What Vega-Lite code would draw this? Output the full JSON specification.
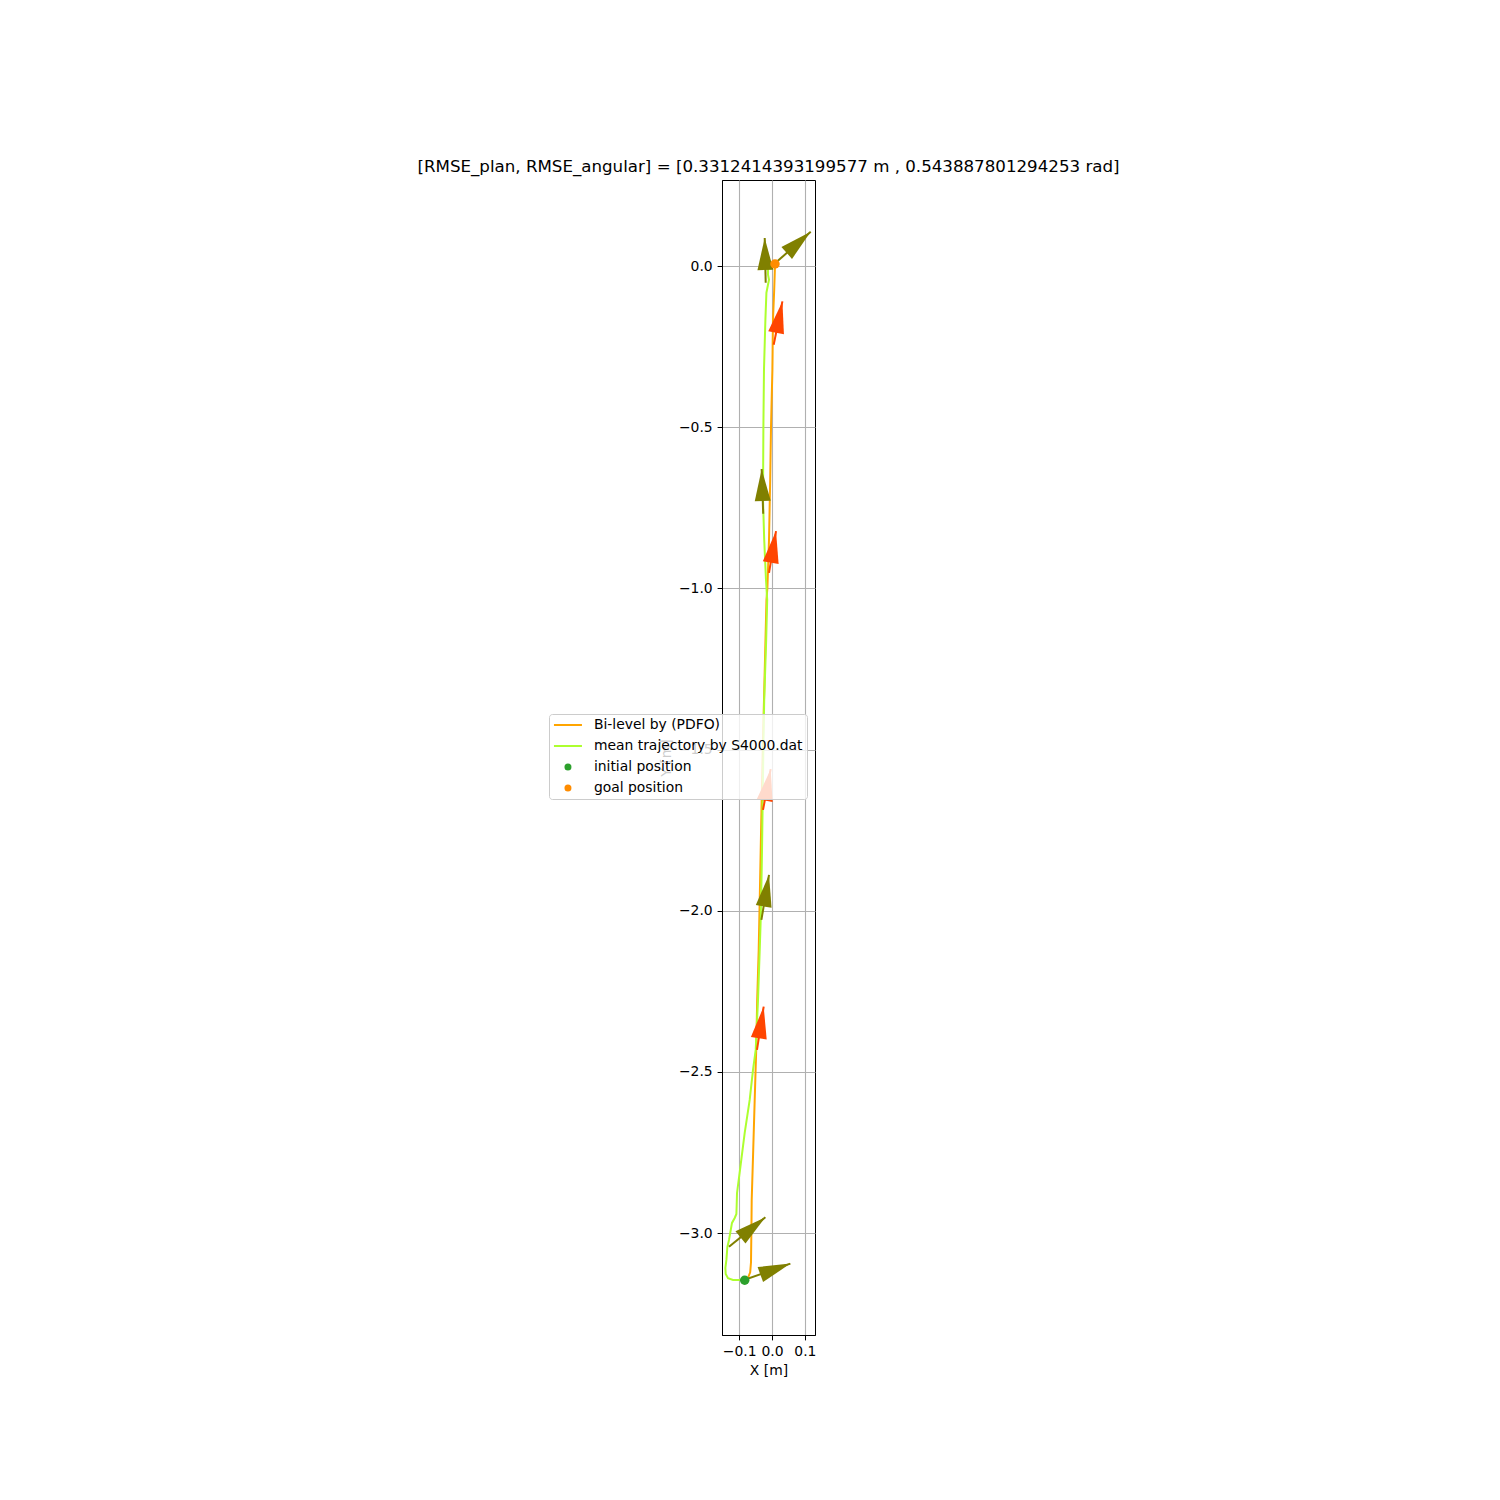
{
  "$schema": "https://vega.github.io/schema/vega-lite/v6.json",
  "width": 93,
  "height": 1155,
  "autosize": {"type": "none"},
  "padding": {"left": 722, "top": 180, "right": 685, "bottom": 165},
  "background": "white",
  "title": {
    "text": "[RMSE_plan, RMSE_angular] = [0.3312414393199577 m , 0.543887801294253 rad]",
    "font": "DejaVu Sans", "fontSize": 16.67, "fontWeight": "normal", "color": "black",
    "anchor": "middle", "offset": 8, "baseline": "alphabetic", "dy": 17
  },
  "config": {
    "view": {"stroke": "black", "strokeWidth": 1},
    "axis": {
      "domainColor": "black", "domainWidth": 1,
      "tickColor": "black", "tickSize": 4.9, "tickWidth": 1,
      "labelFont": "DejaVu Sans", "labelFontSize": 13.9, "labelColor": "black", "labelPadding": 4.9,
      "labelFlush": false, "labelOverlap": false,
      "titleFont": "DejaVu Sans", "titleFontSize": 13.9, "titleFontWeight": "normal", "titleColor": "black", "titlePadding": 5,
      "grid": true, "gridColor": "#b0b0b0", "gridWidth": 1.1
    }
  },
  "datasets": {
    "traj": [
      {"series": "Bi-level by (PDFO)", "i": 0, "x": -0.0831, "y": -3.1461},
      {"series": "Bi-level by (PDFO)", "i": 1, "x": -0.0725, "y": -3.1368},
      {"series": "Bi-level by (PDFO)", "i": 2, "x": -0.0664, "y": -3.1213},
      {"series": "Bi-level by (PDFO)", "i": 3, "x": -0.0639, "y": -3.0903},
      {"series": "Bi-level by (PDFO)", "i": 4, "x": -0.0627, "y": -2.991},
      {"series": "Bi-level by (PDFO)", "i": 5, "x": -0.0618, "y": -2.8979},
      {"series": "Bi-level by (PDFO)", "i": 6, "x": -0.0572, "y": -2.7428},
      {"series": "Bi-level by (PDFO)", "i": 7, "x": -0.0527, "y": -2.5876},
      {"series": "Bi-level by (PDFO)", "i": 8, "x": -0.0481, "y": -2.4325},
      {"series": "Bi-level by (PDFO)", "i": 9, "x": -0.0451, "y": -2.2774},
      {"series": "Bi-level by (PDFO)", "i": 10, "x": -0.0405, "y": -2.1222},
      {"series": "Bi-level by (PDFO)", "i": 11, "x": -0.0374, "y": -1.9671},
      {"series": "Bi-level by (PDFO)", "i": 12, "x": -0.0344, "y": -1.812},
      {"series": "Bi-level by (PDFO)", "i": 13, "x": -0.0314, "y": -1.6559},
      {"series": "Bi-level by (PDFO)", "i": 14, "x": -0.0274, "y": -1.4697},
      {"series": "Bi-level by (PDFO)", "i": 15, "x": -0.0228, "y": -1.2836},
      {"series": "Bi-level by (PDFO)", "i": 16, "x": -0.0168, "y": -1.0353},
      {"series": "Bi-level by (PDFO)", "i": 17, "x": -0.014, "y": -0.9981},
      {"series": "Bi-level by (PDFO)", "i": 18, "x": -0.0091, "y": -0.8492},
      {"series": "Bi-level by (PDFO)", "i": 19, "x": -0.0055, "y": -0.663},
      {"series": "Bi-level by (PDFO)", "i": 20, "x": -0.003, "y": -0.4986},
      {"series": "Bi-level by (PDFO)", "i": 21, "x": 0.0012, "y": -0.3217},
      {"series": "Bi-level by (PDFO)", "i": 22, "x": 0.003, "y": -0.1666},
      {"series": "Bi-level by (PDFO)", "i": 23, "x": 0.0067, "y": -0.0735},
      {"series": "Bi-level by (PDFO)", "i": 24, "x": 0.0091, "y": 0.0009},
      {"series": "mean trajectory by S4000.dat", "i": 0, "x": -0.0922, "y": -3.1452},
      {"series": "mean trajectory by S4000.dat", "i": 1, "x": -0.1187, "y": -3.1452},
      {"series": "mean trajectory by S4000.dat", "i": 2, "x": -0.1339, "y": -3.1399},
      {"series": "mean trajectory by S4000.dat", "i": 3, "x": -0.1409, "y": -3.1266},
      {"series": "mean trajectory by S4000.dat", "i": 4, "x": -0.1419, "y": -3.108},
      {"series": "mean trajectory by S4000.dat", "i": 5, "x": -0.1388, "y": -3.0831},
      {"series": "mean trajectory by S4000.dat", "i": 6, "x": -0.1358, "y": -3.0428},
      {"series": "mean trajectory by S4000.dat", "i": 7, "x": -0.1309, "y": -3.0211},
      {"series": "mean trajectory by S4000.dat", "i": 8, "x": -0.1218, "y": -2.9683},
      {"series": "mean trajectory by S4000.dat", "i": 9, "x": -0.1135, "y": -2.9528},
      {"series": "mean trajectory by S4000.dat", "i": 10, "x": -0.1084, "y": -2.9404},
      {"series": "mean trajectory by S4000.dat", "i": 11, "x": -0.1075, "y": -2.9125},
      {"series": "mean trajectory by S4000.dat", "i": 12, "x": -0.1065, "y": -2.8753},
      {"series": "mean trajectory by S4000.dat", "i": 13, "x": -0.0962, "y": -2.7946},
      {"series": "mean trajectory by S4000.dat", "i": 14, "x": -0.0831, "y": -2.6891},
      {"series": "mean trajectory by S4000.dat", "i": 15, "x": -0.0679, "y": -2.5867},
      {"series": "mean trajectory by S4000.dat", "i": 16, "x": -0.0578, "y": -2.4936},
      {"series": "mean trajectory by S4000.dat", "i": 17, "x": -0.0496, "y": -2.4316},
      {"series": "mean trajectory by S4000.dat", "i": 18, "x": -0.0426, "y": -2.2764},
      {"series": "mean trajectory by S4000.dat", "i": 19, "x": -0.0374, "y": -2.1213},
      {"series": "mean trajectory by S4000.dat", "i": 20, "x": -0.0344, "y": -2.0282},
      {"series": "mean trajectory by S4000.dat", "i": 21, "x": -0.0314, "y": -1.8731},
      {"series": "mean trajectory by S4000.dat", "i": 22, "x": -0.0304, "y": -1.811},
      {"series": "mean trajectory by S4000.dat", "i": 23, "x": -0.0283, "y": -1.6559},
      {"series": "mean trajectory by S4000.dat", "i": 24, "x": -0.0259, "y": -1.4697},
      {"series": "mean trajectory by S4000.dat", "i": 25, "x": -0.0237, "y": -1.3456},
      {"series": "mean trajectory by S4000.dat", "i": 26, "x": -0.0177, "y": -1.1594},
      {"series": "mean trajectory by S4000.dat", "i": 27, "x": -0.0146, "y": -1.0353},
      {"series": "mean trajectory by S4000.dat", "i": 28, "x": -0.0183, "y": -0.9733},
      {"series": "mean trajectory by S4000.dat", "i": 29, "x": -0.0237, "y": -0.8492},
      {"series": "mean trajectory by S4000.dat", "i": 30, "x": -0.0274, "y": -0.7251},
      {"series": "mean trajectory by S4000.dat", "i": 31, "x": -0.0262, "y": -0.4986},
      {"series": "mean trajectory by S4000.dat", "i": 32, "x": -0.0244, "y": -0.3217},
      {"series": "mean trajectory by S4000.dat", "i": 33, "x": -0.0201, "y": -0.1666},
      {"series": "mean trajectory by S4000.dat", "i": 34, "x": -0.017, "y": -0.0828},
      {"series": "mean trajectory by S4000.dat", "i": 35, "x": -0.0122, "y": -0.058},
      {"series": "mean trajectory by S4000.dat", "i": 36, "x": -0.0091, "y": -0.0425},
      {"series": "mean trajectory by S4000.dat", "i": 37, "x": -0.0122, "y": -0.027},
      {"series": "mean trajectory by S4000.dat", "i": 38, "x": -0.0122, "y": -0.0012}
    ],
    "poses": [
      {"set": "mean", "x": -0.0192, "y": -0.0518, "tx": -0.0222, "ty": 0.0869, "angle": -1.3},
      {"set": "mean", "x": 0.0, "y": 0.0, "tx": 0.1178, "ty": 0.1064, "angle": 48.5},
      {"set": "mean", "x": -0.0268, "y": -0.7685, "tx": -0.0314, "ty": -0.6299, "angle": -1.9},
      {"set": "mean", "x": -0.0323, "y": -2.0282, "tx": -0.0091, "ty": -1.8886, "angle": 9.6},
      {"set": "mean", "x": -0.1309, "y": -3.0419, "tx": -0.0201, "ty": -2.9507, "angle": 51.1},
      {"set": "mean", "x": -0.0831, "y": -3.1446, "tx": 0.056, "ty": -3.0944, "angle": 69.9},
      {"set": "plan", "x": 0.0052, "y": -0.2442, "tx": 0.0317, "ty": -0.1098, "angle": 11.4},
      {"set": "plan", "x": -0.0091, "y": -0.9516, "tx": 0.0122, "ty": -0.8222, "angle": 9.5},
      {"set": "plan", "x": -0.0274, "y": -1.6869, "tx": -0.004, "ty": -1.5607, "angle": 10.7},
      {"set": "plan", "x": -0.0457, "y": -2.4316, "tx": -0.0253, "ty": -2.2972, "angle": 8.8}
    ],
    "ends": [
      {"series": "initial position", "x": -0.0831, "y": -3.1461},
      {"series": "goal position", "x": 0.0091, "y": 0.0062}
    ]
  },
  "layer": [
    {
      "data": {"name": "traj"},
      "mark": {"type": "line", "strokeWidth": 2},
      "encoding": {
        "x": {"field": "x", "type": "quantitative", "title": "X [m]",
              "scale": {"domain": [-0.1522, 0.1309], "nice": false, "zero": false},
              "axis": {"values": [-0.1, 0, 0.1], "format": ".1f"}},
        "y": {"field": "y", "type": "quantitative", "title": "Y [m]",
              "scale": {"domain": [-3.3159, 0.2668], "nice": false, "zero": false},
              "axis": {"values": [-3, -2.5, -2, -1.5, -1, -0.5, 0], "format": ".1f"}},
        "order": {"field": "i", "type": "quantitative"},
        "color": {
          "field": "series", "type": "nominal",
          "scale": {
            "domain": ["Bi-level by (PDFO)", "mean trajectory by S4000.dat", "initial position", "goal position"],
            "range": ["#FFA500", "#ADFF2F", "#2ca02c", "#FF8C00"]
          },
          "legend": {
            "title": null, "orient": "none", "legendX": -173, "legendY": 534,
            "padding": 4, "clipHeight": 14, "rowPadding": 7, "labelOffset": 19, "symbolOffset": 8,
            "symbolSize": 784, "symbolStrokeWidth": 2, "symbolType": "stroke",
            "labelFont": "DejaVu Sans", "labelFontSize": 13.9, "labelColor": "black", "labelLimit": 400,
            "fillColor": "rgba(255,255,255,0.8)", "strokeColor": "#cccccc", "cornerRadius": 3,
            "encode": {
              "symbols": {
                "update": {
                  "shape": {"signal": "indexof(['initial position','goal position'], datum.value) >= 0 ? 'circle' : 'stroke'"},
                  "size": {"signal": "indexof(['initial position','goal position'], datum.value) >= 0 ? 49 : 784"},
                  "fill": {"signal": "indexof(['initial position','goal position'], datum.value) >= 0 ? scale('color', datum.value) : 'transparent'"},
                  "stroke": {"signal": "indexof(['initial position','goal position'], datum.value) >= 0 ? 'transparent' : scale('color', datum.value)"},
                  "strokeWidth": {"signal": "indexof(['initial position','goal position'], datum.value) >= 0 ? 0 : 2"},
                  "opacity": {"value": 1}
                }
              }
            }
          }
        }
      }
    },
    {
      "data": {"name": "poses"},
      "mark": {"type": "rule", "strokeWidth": 2},
      "encoding": {
        "x": {"field": "x", "type": "quantitative", "title": "X [m]"},
        "y": {"field": "y", "type": "quantitative", "title": "Y [m]"},
        "x2": {"field": "tx"},
        "y2": {"field": "ty"},
        "color": {"condition": {"test": "datum.set === 'plan'", "value": "#FF4500"}, "value": "#808000"}
      }
    },
    {
      "data": {"name": "poses"},
      "mark": {"type": "point", "shape": "M0,0L-0.5,2L0.5,2Z", "filled": true, "size": 1024, "opacity": 1, "strokeWidth": 0},
      "encoding": {
        "x": {"field": "tx", "type": "quantitative", "title": "X [m]"},
        "y": {"field": "ty", "type": "quantitative", "title": "Y [m]"},
        "angle": {"field": "angle", "type": "quantitative", "scale": null},
        "color": {"condition": {"test": "datum.set === 'plan'", "value": "#FF4500"}, "value": "#808000"}
      }
    },
    {
      "data": {"name": "ends"},
      "mark": {"type": "point", "filled": true, "size": 90, "opacity": 1},
      "encoding": {
        "x": {"field": "x", "type": "quantitative", "title": "X [m]"},
        "y": {"field": "y", "type": "quantitative", "title": "Y [m]"},
        "color": {"field": "series", "type": "nominal"}
      }
    }
  ]
}
